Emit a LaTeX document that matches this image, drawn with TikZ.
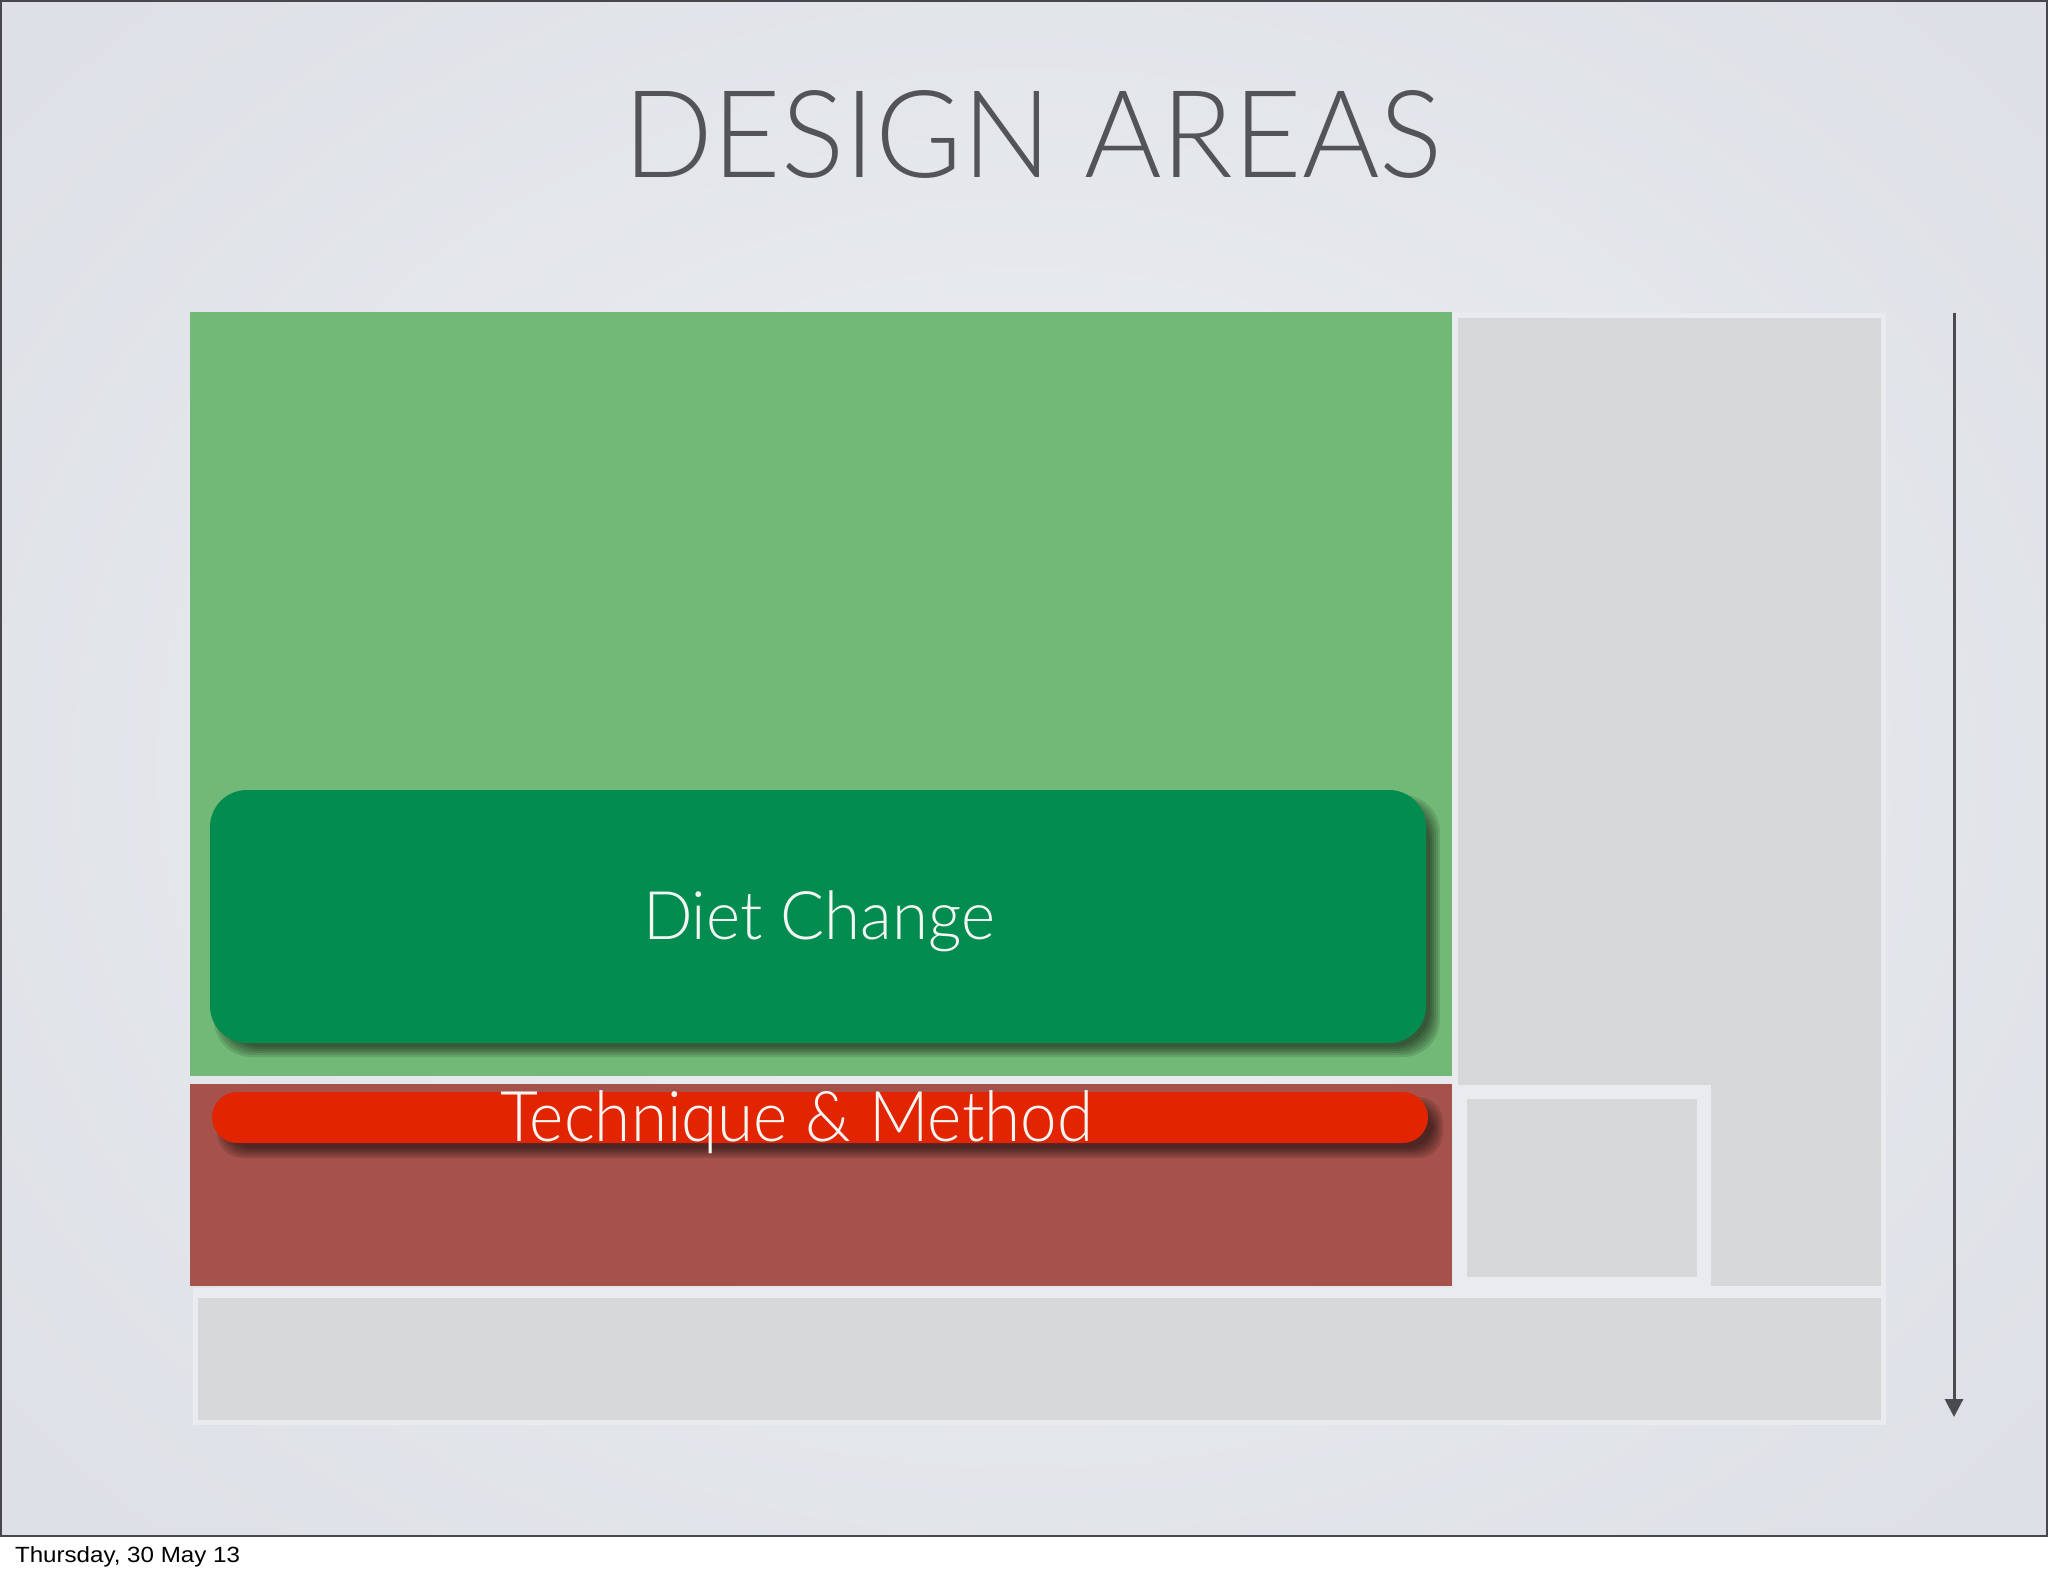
\documentclass[tikz,border=0pt]{standalone}
\usepackage{fontspec}
\usepackage{graphicx}
\newfontfamily\gillfont{Lato Light}
\newfontfamily\footfont{Liberation Sans}
\usetikzlibrary{arrows.meta}
\definecolor{slidelight}{RGB}{238,240,244}
\definecolor{slidedark}{RGB}{221,224,230}
\definecolor{slideborder}{RGB}{70,72,76}
\definecolor{greenlight}{RGB}{114,185,119}
\definecolor{darkgreen}{RGB}{3,140,80}
\definecolor{redrect}{RGB}{164,82,75}
\definecolor{redbar}{RGB}{226,36,0}
\definecolor{graybox}{RGB}{214,215,217}
\definecolor{framecol}{RGB}{234,235,238}
\definecolor{titlecol}{RGB}{83,84,88}
\definecolor{arrowcol}{RGB}{74,75,79}
\definecolor{labeltext}{RGB}{244,246,244}
\tikzset{
  lbl/.style={inner sep=0pt, outer sep=0pt, anchor=base west},
  shadowlayer/.style={fill=black, opacity=0.11},
}
\begin{document}
\begin{tikzpicture}[x=1pt,y=-1pt]
\useasboundingbox (0,0) rectangle (2048,1576);
\fill[white] (0,0) rectangle (2048,1576);
\shade[inner color=slidelight, outer color=slidedark] (-300,-300) rectangle (2348,1836);
\fill[white] (0,1537) rectangle (2048,1576);
\draw[slideborder, line width=2pt] (1,1) rectangle (2047,1536);

% title
\node[lbl, text=titlecol] (title) at (623,177)
  {\resizebox{820pt}{87pt}{\gillfont\fontsize{121}{130}\selectfont DESIGN AREAS}};

% bottom bar
\fill[framecol] (193,1288) rectangle (1886,1425);
\fill[graybox] (198,1298) rectangle (1881,1420);

% tall gray column
\fill[framecol] (1453,313) rectangle (1886,1290);
\fill[graybox] (1458,318) rectangle (1881,1286);

% small box
\fill[framecol] (1458,1085) rectangle (1711,1292);
\fill[graybox] (1467,1099) rectangle (1697,1277);

% green area
\fill[greenlight] (190,312) rectangle (1452,1076);
% red area
\fill[redrect] (190,1084) rectangle (1452,1286);

% diet change shadow
\foreach \e in {-5,-3,-1,1,3,5}{
  \fill[shadowlayer, rounded corners=37pt] (219-\e,800-\e) rectangle (1435+\e,1052+\e);
}
\fill[darkgreen, rounded corners=37pt] (210,790) rectangle (1426,1043);
\node[lbl, text=labeltext] (diet) at (643,939)
  {\resizebox{352pt}{\height}{\gillfont\fontsize{67}{70}\selectfont Diet Change}};

% technique shadow
\foreach \e in {-5,-3,-1,1,3,5}{
  \fill[shadowlayer, rounded corners=25pt] (222-\e,1102-\e) rectangle (1438+\e,1153+\e);
}
\fill[redbar, rounded corners=25.5pt] (212,1092) rectangle (1428,1143);
\node[lbl, text=labeltext] (tech) at (500,1141)
  {\resizebox{593pt}{\height}{\gillfont\fontsize{70}{74}\selectfont Technique \& Method}};

% arrow
\coordinate (atop) at (1954,313);
\coordinate (abot) at (1954,1417);
\draw[arrowcol, line width=3pt, -{Triangle[length=18pt,width=18pt]}] (atop) -- (abot);

% footer
\node[lbl, text=black] (footer) at (15,1562)
  {\resizebox{225pt}{\height}{\footfont\fontsize{22}{24}\selectfont Thursday, 30 May 13}};
\end{tikzpicture}
\end{document}
